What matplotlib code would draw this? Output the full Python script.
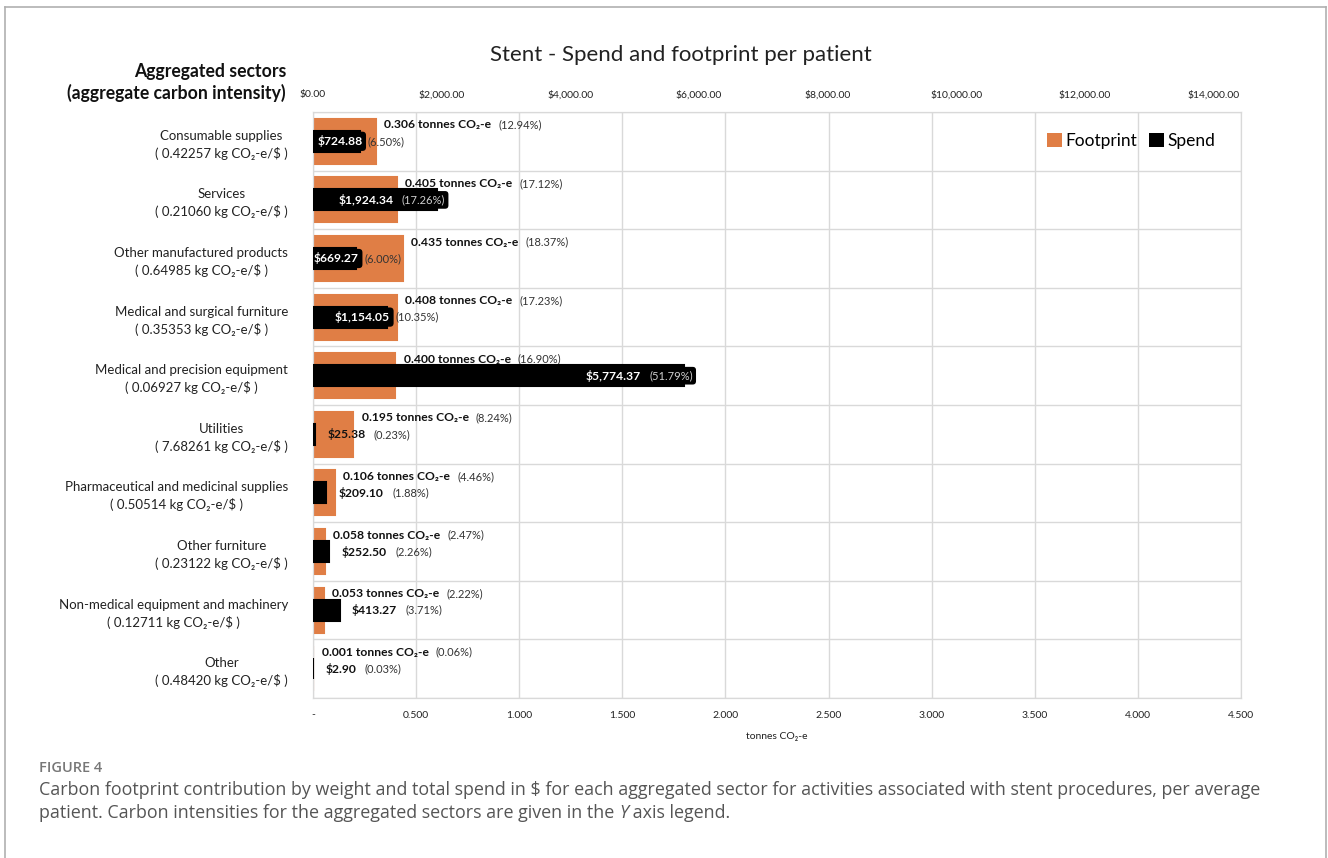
import numpy as np
import matplotlib
matplotlib.use('Agg')
import matplotlib.pyplot as plt
from matplotlib.patches import Patch
from matplotlib.lines import Line2D
from matplotlib.text import Annotation
from matplotlib.ticker import FuncFormatter

# data
sectors = ['Consumable supplies', 'Services', 'Other manufactured products',
           'Medical and surgical furniture', 'Medical and precision equipment',
           'Utilities', 'Pharmaceutical and medicinal supplies', 'Other furniture',
           'Non-medical equipment and machinery', 'Other']
intensity = ['0.42257', '0.21060', '0.64985', '0.35353', '0.06927',
             '7.68261', '0.50514', '0.23122', '0.12711', '0.48420']
footprint = [0.306, 0.405, 0.435, 0.408, 0.400, 0.195, 0.106, 0.058, 0.053, 0.001]
footprint_pct = [12.94, 17.12, 18.37, 17.23, 16.90, 8.24, 4.46, 2.47, 2.22, 0.06]
spend = [724.88, 1924.34, 669.27, 1154.05, 5774.37, 25.38, 209.10, 252.50, 413.27, 2.90]
spend_pct = [6.50, 17.26, 6.00, 10.35, 51.79, 0.23, 1.88, 2.26, 3.71, 0.03]

ORANGE = '#E07E45'
GRID = '#d9d9d9'
plt.rcParams['font.family'] = ['Lato', 'DejaVu Sans']

W, H = 1328, 858
fig = plt.figure(figsize=(W / 100, H / 100), dpi=100)


def fx(px):
    return px / W


def fy(py):
    return 1 - py / H


ax = fig.add_axes([fx(313), fy(698), fx(1241) - fx(313), fy(112) - fy(698)])
ax2 = ax.twiny()
y = np.arange(len(sectors))

# footprint (bottom axis, tonnes)
ax.barh(y, footprint, height=0.77, color=ORANGE, edgecolor=ORANGE, lw=1.5, zorder=2)
ax.set_xlim(0, 4.5)
ax.set_ylim(len(sectors) - 0.5, -0.5)
ax.set_xticks(np.arange(0, 4.51, 0.5))
ax.xaxis.set_major_formatter(FuncFormatter(lambda v, p: '-' if v == 0 else f'{v:.3f}'))
ax.set_yticks(y, labels=[f'{s}\n( {i} kg CO\u2082-e/$ )' for s, i in zip(sectors, intensity)])
for t in ax.get_yticklabels():
    t.set_multialignment('center')
    t.set_linespacing(1.45)
ax.set_yticks(np.arange(len(sectors) + 1) - 0.5, minor=True)
ax.tick_params(axis='y', which='both', length=0, pad=18, labelsize=9.5, labelcolor='#222')
ax.tick_params(axis='x', length=0, pad=9, labelsize=7.5, labelcolor='#222')
ax.grid(axis='x', color=GRID, lw=1, zorder=0)
ax.grid(axis='y', which='minor', color=GRID, lw=1, zorder=0)
ax.set_axisbelow(True)
ax.set_xlabel('tonnes CO\u2082-e', fontsize=7.5, color='#222', labelpad=9)
for s in ax.spines.values():
    s.set_color(GRID)

# spend (top axis, dollars)
ax2.barh(y, spend, height=0.36, color='black', edgecolor='black', lw=1.5, zorder=3)
ax2.set_xlim(0, 14430)
ax2.set_xticks(np.arange(0, 14001, 2000))
ax2.xaxis.set_major_formatter(FuncFormatter(lambda v, p: f'${v:,.2f}'))
ax2.tick_params(axis='x', length=0, pad=9, labelsize=7.5, labelcolor='#222')
for s in ax2.spines.values():
    s.set_color(GRID)

# footprint labels
for i in range(len(sectors)):
    t1 = ax.annotate(f'{footprint[i]:.3f} tonnes CO\u2082-e', xy=(footprint[i], i - 0.28),
                     xytext=(6, 0), textcoords='offset points', ha='left', va='center',
                     fontsize=8.7, fontweight='bold', color='#111', zorder=5)
    ax.annotate(f'({footprint_pct[i]:.2f}%)', xy=(1, 0.5), xycoords=t1,
                xytext=(5, 0), textcoords='offset points', ha='left', va='center',
                fontsize=8, color='#333', zorder=5)

# spend labels
box = dict(boxstyle='round,pad=0.3', fc='black', ec='none')
for i in range(len(sectors)):
    val = f'${spend[i]:,.2f}'
    pct = f'({spend_pct[i]:.2f}%)'
    if spend[i] >= 1500:
        p = ax2.annotate(pct, xy=(spend[i], i), xytext=(6, 0), textcoords='offset points',
                         ha='right', va='center', fontsize=8, color='#d0d0d0', bbox=box, zorder=6)
        ax2.annotate(val, xy=(0, 0.5), xycoords=p, xytext=(-6, 0), textcoords='offset points',
                     ha='right', va='center', fontsize=8.7, fontweight='bold', color='white',
                     zorder=6)
    elif spend[i] >= 600:
        v = ax2.annotate(val, xy=(spend[i], i), xytext=(2, 0), textcoords='offset points',
                         ha='right', va='center', fontsize=8.7, fontweight='bold', color='white',
                         bbox=box, zorder=6)
        v.set_clip_on(True)
        v.set_clip_box(ax2.bbox)
        ax2.annotate(pct, xy=(1, 0.5), xycoords=v, xytext=(4, 0), textcoords='offset points',
                     ha='left', va='center', fontsize=8, color='#333', zorder=6)
    else:
        v = ax2.annotate(val, xy=(spend[i], i), xytext=(9, 0), textcoords='offset points',
                         ha='left', va='center', fontsize=8.7, fontweight='bold', color='#111',
                         zorder=6)
        ax2.annotate(pct, xy=(1, 0.5), xycoords=v, xytext=(6, 0), textcoords='offset points',
                     ha='left', va='center', fontsize=8, color='#333', zorder=6)

# legend
handles = [Patch(facecolor=ORANGE, label='Footprint'), Patch(facecolor='black', label='Spend')]
ax2.legend(handles=handles, loc='center left', bbox_to_anchor=(fx(1047), fy(141)),
           bbox_transform=fig.transFigure, ncol=2, frameon=False, fontsize=12.5,
           handlelength=0.85, handleheight=0.85, handletextpad=0.2, columnspacing=0.7,
           borderpad=0, borderaxespad=0)

# titles
fig.text(fx(681), fy(55), 'Stent - Spend and footprint per patient', ha='center', va='center',
         fontsize=16, color='#222')
fig.text(fx(286), fy(71), 'Aggregated sectors', ha='right', va='center',
         fontsize=12.7, fontweight='bold', color='#111')
fig.text(fx(286), fy(93), '(aggregate carbon intensity)', ha='right', va='center',
         fontsize=12.7, fontweight='bold', color='#111')

# outer frame
for xs, ys in [([5, 5], [H, 7]), ([5, 1326], [7, 7]), ([1326, 1326], [7, H])]:
    fig.add_artist(Line2D([fx(v) for v in xs], [fy(v) for v in ys], color='#b0b0b0', lw=1.2))

# caption
cap = ['Open Sans', 'DejaVu Sans']
fig.text(fx(39), fy(768), 'FIGURE 4', ha='left', va='center', fontsize=10.5,
         family=cap, fontweight='semibold', color='#777')
fig.text(fx(39), fy(790), 'Carbon footprint contribution by weight and total spend in $ for each '
         'aggregated sector for activities associated with stent procedures, per average',
         ha='left', va='center', fontsize=12.9, family=cap, color='#555')
t = fig.text(fx(39), fy(813) - 0.011, 'patient. Carbon intensities for the aggregated sectors are given in the ',
             ha='left', va='bottom', fontsize=12.9, family=cap, color='#555')
a1 = fig.add_artist(Annotation('Y', xy=(1, 0), xycoords=t, ha='left', va='bottom',
                               fontsize=12.9, family=cap, style='italic', color='#555'))
fig.add_artist(Annotation(' axis legend.', xy=(1, 0), xycoords=a1, ha='left',
                          va='bottom', fontsize=12.9, family=cap, color='#555'))

fig.savefig('out.png', dpi=100)
